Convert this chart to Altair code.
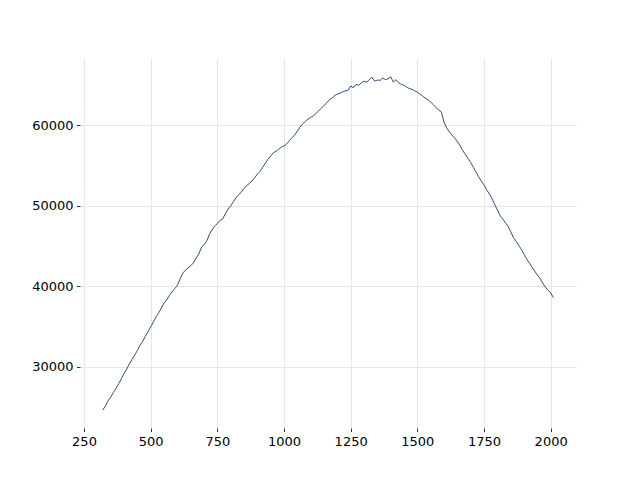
import altair as alt
import pandas as pd

x_vals = list(range(320, 2011, 10))
y_vals = [
    24600, 25100, 25750, 26200, 26800, 27300, 27900, 28500, 29150, 29700,
    30330, 30900, 31450, 32000, 32650, 33150, 33800, 34350, 34950, 35550,
    36200, 36700, 37300, 37900, 38300, 38850, 39300, 39700, 40100, 40900,
    41600, 42000, 42300, 42550, 42900, 43500, 44000, 44800, 45200, 45600,
    46450, 47000, 47500, 47800, 48200, 48400, 49000, 49600, 50000, 50500,
    51000, 51400, 51700, 52200, 52500, 52800, 53100, 53500, 53950, 54300,
    54800, 55300, 55800, 56200, 56600, 56800, 57050, 57300, 57450, 57700,
    58100, 58500, 58800, 59300, 59800, 60200, 60500, 60800, 61000, 61200,
    61500, 61800, 62150, 62500, 62800, 63200, 63400, 63700, 63900, 64000,
    64200, 64300, 64350, 64900, 64700, 65100, 65000, 65300, 65500, 65400,
    65700, 66000, 65500, 65650, 65600, 65900, 65700, 65800, 66050, 65400,
    65700, 65300, 65100, 65000, 64750, 64600, 64500, 64300, 64150, 63900,
    63650, 63400, 63200, 62900, 62600, 62250, 61900, 61700, 60400, 59700,
    59200, 58800, 58450, 58000, 57500, 56900, 56400, 55900, 55400, 54800,
    54200, 53600, 53100, 52600, 52000, 51500, 50900, 50200, 49500, 48800,
    48400, 47900, 47500, 46800, 46100, 45600, 45100, 44600, 44000, 43400,
    42900, 42400, 41900, 41400, 41000, 40400, 39900, 39500, 39200, 38600,
]
x_ticks = [250, 500, 750, 1000, 1250, 1500, 1750, 2000]
y_ticks = [30000, 40000, 50000, 60000]

df = pd.DataFrame({"x": x_vals, "y": y_vals})

axis_common = dict(
    domain=False,
    grid=True,
    gridColor="#e6e6e6",
    gridWidth=1,
    tickColor="#000000",
    tickSize=3.5,
    tickWidth=0.8,
    labelColor="#000000",
    labelFont="DejaVu Sans",
    labelFontSize=13,
    labelPadding=3.5,
    title=None,
)

chart = alt.Chart(df).mark_line(color="#2f4f7a", strokeWidth=1).encode(
    x=alt.X("x:Q", scale=alt.Scale(domain=[235, 2095], nice=False, zero=False),
            axis=alt.Axis(values=x_ticks, format="d", **axis_common)),
    y=alt.Y("y:Q", scale=alt.Scale(domain=[22380, 68390], nice=False, zero=False),
            axis=alt.Axis(values=y_ticks, format="d", **axis_common)),
).properties(
    width=496,
    height=370,
    autosize=alt.AutoSizeParams(type="none"),
    padding={"left": 72, "top": 50, "right": 56, "bottom": 45},
).configure_view(stroke=None)

chart.save("out.html", embed_options={"renderer": "svg", "actions": False})
